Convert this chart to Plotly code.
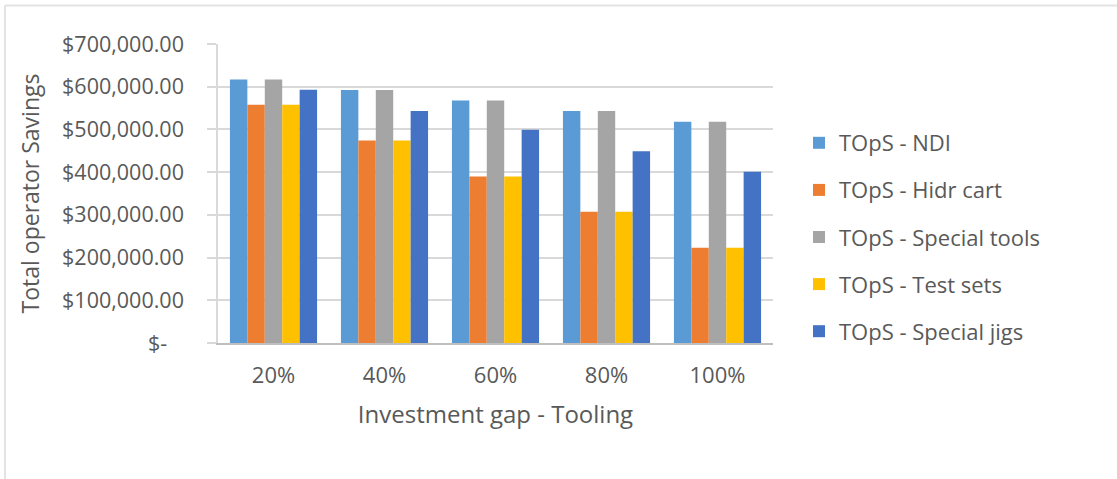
import plotly.graph_objects as go

categories = ["20%", "40%", "60%", "80%", "100%"]

series_names = [
    "TOpS - NDI",
    "TOpS - Hidr cart",
    "TOpS - Special tools",
    "TOpS - Test sets",
    "TOpS - Special jigs",
]

ndi = [617000, 592500, 568000, 543000, 518000]
hidr_cart = [558000, 474000, 390000, 307000, 223000]
special_tools = [617000, 592500, 568000, 543000, 518000]
test_sets = [558000, 474000, 390000, 307000, 223000]
special_jigs = [593000, 543000, 499000, 449000, 401000]

series_values = [ndi, hidr_cart, special_tools, test_sets, special_jigs]
series_colors = ["#5B9BD5", "#ED7D31", "#A5A5A5", "#FFC000", "#4472C4"]

y_tick_values = [0, 100000, 200000, 300000, 400000, 500000, 600000, 700000]
y_tick_labels = [
    "$-\u00a0\u00a0\u00a0",
    "$100,000.00",
    "$200,000.00",
    "$300,000.00",
    "$400,000.00",
    "$500,000.00",
    "$600,000.00",
    "$700,000.00",
]

FONT = "Open Sans"
TEXT = "#595959"

fig = go.Figure()
for name, vals, color in zip(series_names, series_values, series_colors):
    fig.add_trace(go.Bar(
        x=categories, y=vals, name=name, legendgroup=name,
        marker=dict(color=color, line=dict(width=0)),
    ))

# plot-area geometry in pixels, used to place the outer frame
W, H = 1117, 479
L, R, T, B = 218, 344, 44, 136
pw, ph = W - L - R, H - T - B


def px_x(p):
    return (p - L) / pw


def px_y(p):
    return (H - B - p) / ph


frame = dict(color="#E3E3E3", width=2)
fig.add_shape(type="line", xref="paper", yref="paper",
              x0=px_x(5), x1=px_x(W + 5), y0=px_y(5.5), y1=px_y(5.5), line=frame)
fig.add_shape(type="line", xref="paper", yref="paper",
              x0=px_x(5), x1=px_x(5), y0=px_y(5.5), y1=px_y(H + 5), line=frame)

fig.update_layout(
    width=W, height=H,
    margin=dict(l=L, r=R, t=T, b=B, pad=0),
    paper_bgcolor="white", plot_bgcolor="white",
    barmode="group", bargap=0.215, bargroupgap=0,
    font=dict(family=FONT, color=TEXT),
    showlegend=True,
    legend=dict(
        x=px_x(799), y=px_y(122), xanchor="left", yanchor="top",
        font=dict(family=FONT, size=22, color=TEXT),
        tracegroupgap=15.5, itemwidth=30,
        bgcolor="rgba(0,0,0,0)",
    ),
    xaxis=dict(
        showgrid=False, showline=True, linecolor="#BFBFBF", linewidth=2,
        ticks="", tickfont=dict(family=FONT, size=22, color=TEXT),
        ticklabelstandoff=12,
        title=dict(text="Investment gap - Tooling", standoff=18,
                   font=dict(family=FONT, size=24, color=TEXT)),
    ),
    yaxis=dict(
        range=[0, 700000], tickvals=y_tick_values, ticktext=y_tick_labels,
        showgrid=True, gridcolor="#D9D9D9", gridwidth=1.5,
        showline=True, linecolor="#D9D9D9", linewidth=1.5,
        ticks="outside", ticklen=9, tickcolor="#D9D9D9", tickwidth=1.5,
        tickfont=dict(family=FONT, size=21.5, color=TEXT),
        ticklabelstandoff=19,
        zeroline=False,
        title=dict(text="Total operator Savings", standoff=16,
                   font=dict(family=FONT, size=23, color=TEXT)),
    ),
)

fig.write_html("out.html")
